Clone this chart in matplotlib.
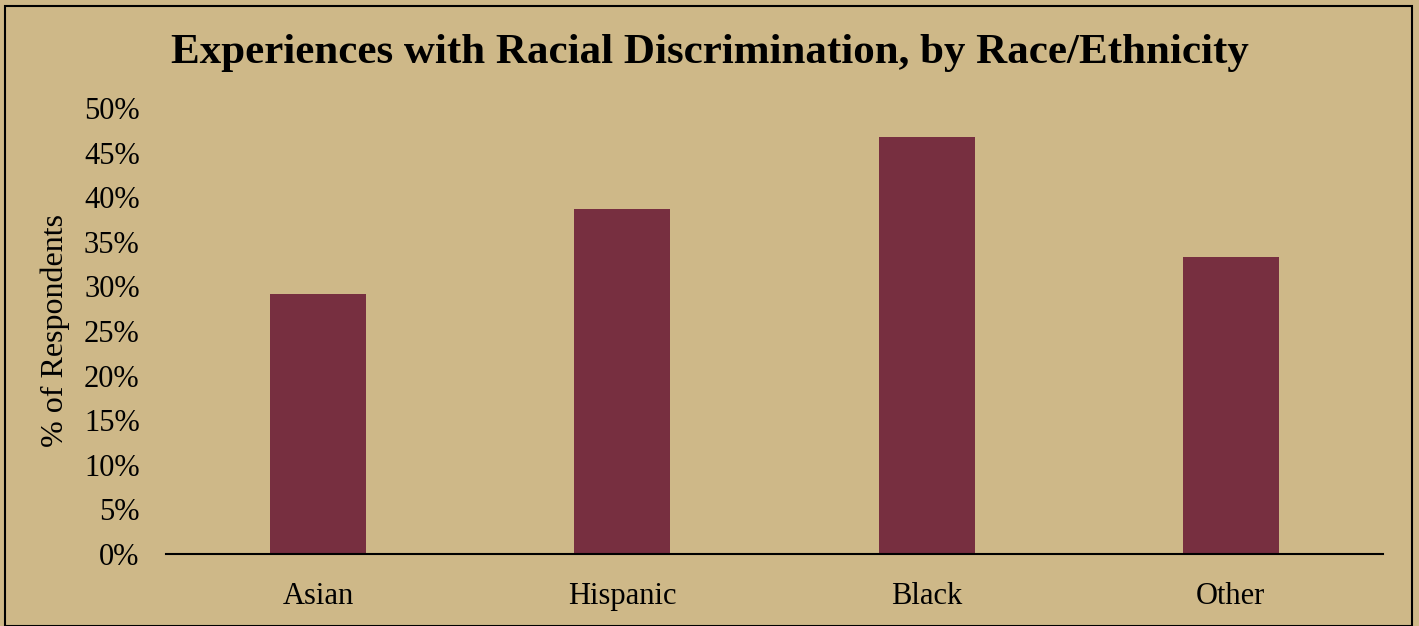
import matplotlib.pyplot as plt
from matplotlib.ticker import PercentFormatter
from matplotlib.patches import Rectangle

# data
groups = ['Asian', 'Hispanic', 'Black', 'Other']
pct = [0.292, 0.387, 0.468, 0.333]

bg = '#CEB888'
garnet = '#772F40'

plt.rcParams['font.family'] = ['Liberation Serif', 'DejaVu Serif']

fig = plt.figure(figsize=(14.19, 6.26), dpi=100, facecolor=bg)
ax = fig.add_axes([0.117, 0.115, 0.8576, 0.7125])
ax.set_facecolor(bg)

ax.bar(range(len(groups)), pct, width=0.315, color=garnet)

ax.set_xlim(-0.5, len(groups) - 0.5)
ax.set_ylim(0, 0.5)
ax.set_yticks([i * 0.05 for i in range(11)])
ax.yaxis.set_major_formatter(PercentFormatter(1.0, decimals=0))
ax.set_xticks(range(len(groups)))
ax.set_xticklabels(groups)
ax.tick_params(axis='both', length=0, labelsize=22, colors='black')
ax.tick_params(axis='x', pad=20)
ax.tick_params(axis='y', pad=19)

for s in ['top', 'right', 'left']:
    ax.spines[s].set_visible(False)
ax.spines['bottom'].set_linewidth(1.5)

ax.set_ylabel('% of Respondents', fontsize=23, labelpad=10)

fig.suptitle('Experiences with Racial Discrimination, by Race/Ethnicity',
             fontsize=31, fontweight='bold', x=0.5, y=0.945)

# outer border of the chart area
fig.patches.append(Rectangle((0.0035, 0.0), 0.9915, 0.991, transform=fig.transFigure,
                             fill=False, edgecolor='black', linewidth=1.5))

fig.savefig('out.png', dpi=100, facecolor=bg)
